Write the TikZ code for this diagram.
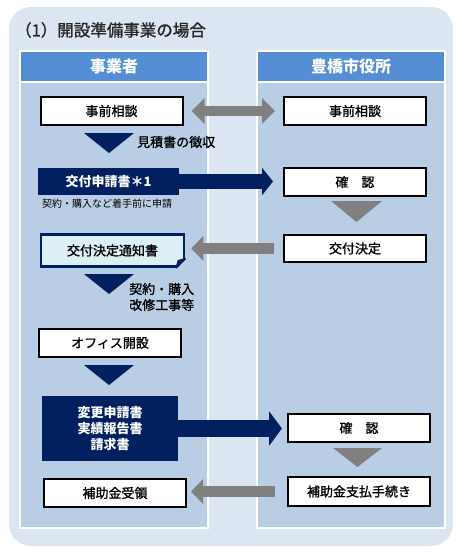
\documentclass[tikz,border=0pt]{standalone}
\usepackage{fontspec}
\setmainfont{Noto Sans CJK JP}
\newfontfamily\medfont{Noto Sans CJK JP}[FakeBold=1.2]
\usetikzlibrary{positioning,arrows.meta}

\definecolor{bgblue}{HTML}{DCE6F2}
\definecolor{lanehead}{HTML}{558ED5}
\definecolor{lanebody}{HTML}{B9CDE5}
\definecolor{navy}{HTML}{002060}
\definecolor{arrowgray}{HTML}{808080}
\definecolor{notefill}{HTML}{DDEFF6}

\tikzset{
  lane/.style={fill=lanebody, draw=white, line width=1.5pt, minimum width=188pt, minimum height=446pt, inner sep=0pt},
  lanetitle/.style={fill=lanehead, draw=white, line width=1.5pt, minimum width=188pt, minimum height=31pt, inner sep=0pt,
    text=white, font=\bfseries\fontsize{16}{19}\selectfont},
  box/.style={draw=black, line width=2pt, fill=white, minimum width=142pt, minimum height=28pt, inner sep=0pt,
    font=\medfont\fontsize{13}{16}\selectfont},
  navybox/.style={fill=navy, text=white, inner sep=0pt, align=center,
    font=\bfseries\fontsize{13}{16}\selectfont},
  lbl/.style={inner sep=0pt, font=\medfont\fontsize{13}{16}\selectfont},
  grayarrow/.style={draw=arrowgray, line width=11pt, -{Triangle[width=24pt,length=12pt]}},
}

\begin{document}
\begin{tikzpicture}[x=1pt,y=-1pt]
  \useasboundingbox (0,0) rectangle (462,554);
  \fill[bgblue, rounded corners=22pt] (9,7) rectangle (453,546);

  %Title
  \node[anchor=west, inner sep=0pt, text=black!85, font=\medfont\fontsize{16.5}{19}\selectfont] (title) at (15,30) {（1）開設準備事業の場合};

  %Lanes
  \node[lane] (laneL) at (114,305) {};
  \node[lane] (laneR) at (351,305) {};
  \node[lanetitle] (jigyosha) at (114,66.5) {事業者};
  \node[lanetitle] (shiyakusho) at (351,66.5) {豊橋市役所};

  %Nodes
  \node[box] (soudanL)  at (111.5,111) {事前相談};
  \node[box] (soudanR)  at (355,111)   {事前相談};
  \node[navybox, minimum width=141pt, minimum height=27pt] (shinsei) at (108.5,181.5) {交付申請書＊1};
  \node[box] (kakunin1) at (355,182)   {確　認};
  \node[box, draw=navy, line width=2.5pt, fill=notefill, minimum width=143pt, minimum height=32pt] (tsuchi) at (112.5,250.5) {交付決定通知書};
  \node[box, minimum height=27pt] (kettei) at (355,248.5) {交付決定};
  \node[box] (office)   at (110,343)   {オフィス開設};
  \node[navybox, minimum width=136pt, minimum height=65pt] (henkou) at (110,428.5) {変更申請書\\実績報告書\\請求書};
  \node[box] (kakunin2) at (359,428)   {確　認};
  \node[box, minimum height=29pt] (shiharai) at (359,491.5) {補助金支払手続き};
  \node[box] (juryo)    at (115,493)   {補助金受領};

  %Labels
  \node[lbl, anchor=west] (mitsumori) at (137,142) {見積書の徴収};
  \node[inner sep=0pt, anchor=west, font=\fontsize{10}{12}\selectfont] (chakushu) at (42,204) {契約・購入など着手前に申請};
  \node[lbl, anchor=west, align=left] (keiyaku) at (129,297) {契約・購入\\改修工事等};

  %Folded corner
  \fill[lanebody] (tsuchi.south east) ++(2,2) -- ++(-12,0) -- ++(12,-12) -- cycle;
  \filldraw[navy, line width=1.5pt, line join=round] (tsuchi.south east) ++(0,-9) -- ++(-9,9) -- ++(2,-7) -- cycle;

  %Triangles
  \foreach \y in {133,274,365}
    \fill[navy] (84,\y) -- ++(50,0) -- ++(-25,20) -- cycle;
  \fill[arrowgray] (331,201) -- ++(51,0) -- ++(-25.5,21) -- cycle;
  \fill[arrowgray] (333,448) -- ++(49,0) -- ++(-24.5,19) -- cycle;

  %Arrows
  \draw[draw=arrowgray, line width=10pt, {Triangle[width=25pt,length=13pt]}-{Triangle[width=25pt,length=13pt]},
    shorten <=8pt, shorten >=8pt] (soudanL) -- (soudanR);
  \draw[navy, line width=15pt, -{Triangle[width=27pt,length=11pt]}, shorten >=10pt] (shinsei.east) -- (shinsei.east -| kakunin1.west);
  \draw[grayarrow, shorten <=9pt, shorten >=6pt] (kettei.west) -- (kettei.west -| tsuchi.east);
  \draw[navy, line width=17pt, -{Triangle[width=34pt,length=13pt]}, shorten >=5pt] (henkou.east) -- (henkou.east -| kakunin2.west);
  \draw[grayarrow, shorten <=12pt, shorten >=4pt] (shiharai.west) -- (shiharai.west -| juryo.east);
\end{tikzpicture}
\end{document}
